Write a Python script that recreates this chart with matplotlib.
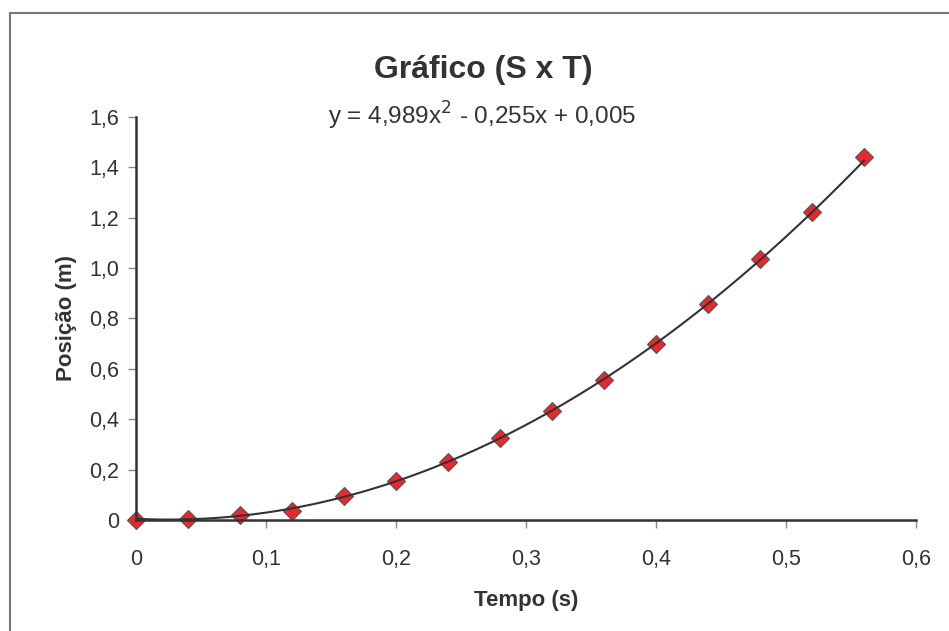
import numpy as np
import matplotlib
matplotlib.use("Agg")
import matplotlib.pyplot as plt
from matplotlib.lines import Line2D
from matplotlib.ticker import FuncFormatter

plt.rcParams["font.family"] = ["Liberation Sans", "DejaVu Sans"]

# measured data
tempo = [0.0, 0.04, 0.08, 0.12, 0.16, 0.20, 0.24, 0.28, 0.32, 0.36, 0.40, 0.44, 0.48, 0.52, 0.56]
posicao = [0.0, 0.004, 0.02, 0.036, 0.095, 0.155, 0.23, 0.325, 0.433, 0.556, 0.70, 0.857, 1.036, 1.223, 1.441]

# trendline coefficients shown on the chart (a, b, c)
trend_coef = [4.989, -0.255, 0.005]
trend_label = "y = 4,989x$^{2}$ - 0,255x + 0,005"

x_ticks = [0, 0.1, 0.2, 0.3, 0.4, 0.5, 0.6]
y_ticks = [0, 0.2, 0.4, 0.6, 0.8, 1.0, 1.2, 1.4, 1.6]


def comma(v, pos):
    if abs(v) < 1e-9:
        return "0"
    return f"{v:.1f}".replace(".", ",")


fig = plt.figure(figsize=(9.49, 6.31), dpi=100)
ax = fig.add_axes([0.1433, 0.1759, 0.8219, 0.6387])

# trendline
xs = np.linspace(tempo[0], tempo[-1], 200)
ax.plot(xs, np.polyval(trend_coef, xs), color="#333333", lw=1.5, zorder=3)

ax.plot(tempo, posicao, linestyle="none", marker="D", markersize=9,
        markerfacecolor="#e8282d", markeredgecolor="#555555", markeredgewidth=0.8,
        zorder=2, clip_on=False)

ax.set_xlim(0, 0.6)
ax.set_ylim(0, 1.6)
ax.set_xticks(x_ticks)
ax.set_yticks(y_ticks)
ax.xaxis.set_major_formatter(FuncFormatter(comma))
ax.yaxis.set_major_formatter(FuncFormatter(comma))

for s in ["top", "right"]:
    ax.spines[s].set_visible(False)
for s in ["left", "bottom"]:
    ax.spines[s].set_color("#333333")
    ax.spines[s].set_linewidth(1.8)

ax.tick_params(axis="both", direction="out", length=6, width=1, color="#888888",
               labelsize=15.5, labelcolor="#333333")
ax.tick_params(axis="x", pad=15)
ax.tick_params(axis="y", pad=6)

ax.set_xlabel("Tempo (s)", fontsize=16, fontweight="bold", color="#333333", labelpad=14)
ax.set_ylabel("Posição (m)", fontsize=16, fontweight="bold", color="#333333", labelpad=9)

fig.text(0.509, 0.889, "Gráfico (S x T)", ha="center", va="center",
         fontsize=23, fontweight="bold", color="#333333")
fig.text(0.508, 0.816, trend_label, ha="center", va="center",
         fontsize=17.5, color="#333333")

# outer chart border (top and left)
fig.add_artist(Line2D([10 / 949, 1.0], [1 - 13 / 631, 1 - 13 / 631],
                      transform=fig.transFigure, color="#777777", lw=1.5))
fig.add_artist(Line2D([10 / 949, 10 / 949], [0.0, 1 - 13 / 631],
                      transform=fig.transFigure, color="#777777", lw=1.5))

fig.savefig("out.png", dpi=100)
